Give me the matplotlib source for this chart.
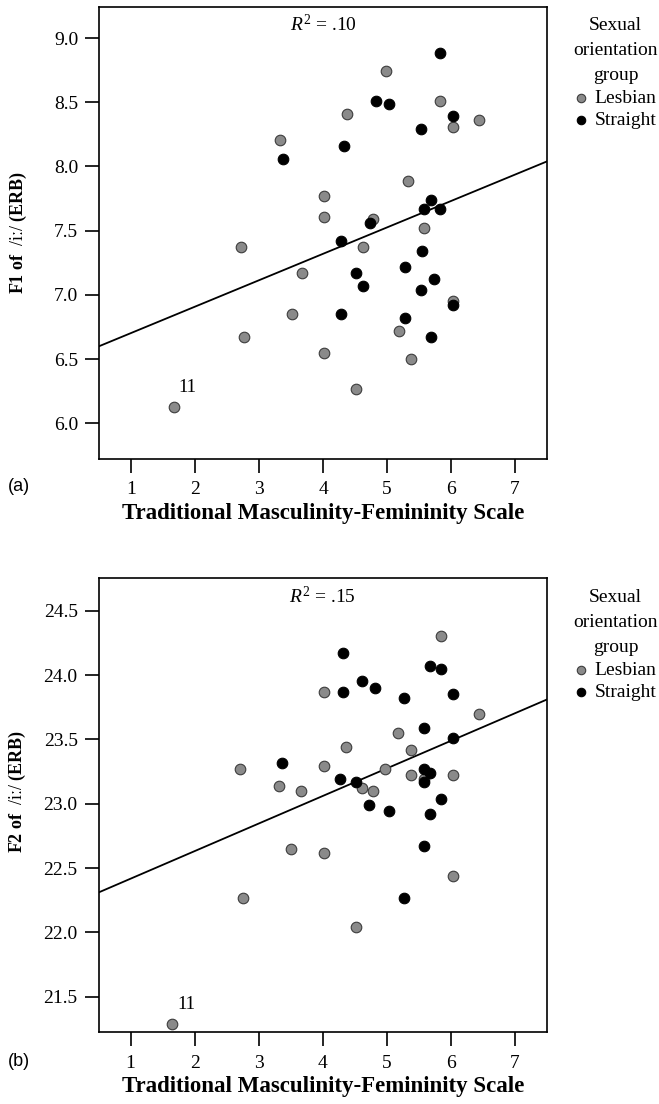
import matplotlib
matplotlib.use("Agg")
import matplotlib.pyplot as plt
import numpy as np

plt.rcParams['font.family'] = ['Liberation Serif', 'DejaVu Serif']
plt.rcParams['mathtext.fontset'] = 'custom'
plt.rcParams['mathtext.rm'] = 'Liberation Serif'
plt.rcParams['mathtext.it'] = 'Liberation Serif:italic'
plt.rcParams['mathtext.bf'] = 'Liberation Serif:bold'

# ---------------- data ----------------
groups = ["Lesbian", "Straight"]

# Panel (a): F1
f1_lesbian_x = [4.98, 5.83, 4.37, 6.03, 6.43, 3.32, 5.33, 4.02, 4.02, 4.78, 5.58,
                2.72, 4.63, 3.67, 6.03, 3.52, 5.18, 2.77, 4.02, 5.38, 4.52, 1.67]
f1_lesbian_y = [8.74, 8.51, 8.41, 8.31, 8.36, 8.21, 7.89, 7.77, 7.61, 7.59, 7.52,
                7.37, 7.37, 7.17, 6.95, 6.85, 6.72, 6.67, 6.55, 6.50, 6.27, 6.13]
f1_straight_x = [5.83, 4.82, 5.03, 6.03, 5.53, 3.37, 4.33, 5.68, 5.58, 5.83, 4.73,
                 4.28, 5.54, 4.52, 5.28, 5.73, 4.63, 5.53, 6.03, 4.28, 5.28, 5.68]
f1_straight_y = [8.88, 8.51, 8.49, 8.39, 8.29, 8.06, 8.16, 7.74, 7.67, 7.67, 7.56,
                 7.42, 7.34, 7.17, 7.22, 7.12, 7.07, 7.04, 6.92, 6.85, 6.82, 6.67]
f1_fit_x = [0.5, 7.5]
f1_fit_y = [6.60, 8.04]
f1_r2 = ".10"

# Panel (b): F2
f2_lesbian_x = [5.84, 4.02, 6.44, 5.17, 4.37, 5.38, 2.71, 4.02, 4.97, 5.38, 6.04,
                3.31, 4.62, 4.78, 3.66, 5.58, 3.51, 4.02, 6.04, 2.76, 4.52, 1.65]
f2_lesbian_y = [24.30, 23.87, 23.70, 23.55, 23.44, 23.42, 23.27, 23.29, 23.27, 23.22, 23.22,
                23.14, 23.12, 23.10, 23.10, 23.19, 22.65, 22.62, 22.44, 22.27, 22.04, 21.29]
f2_straight_x = [4.32, 5.68, 5.84, 4.62, 4.82, 4.32, 5.27, 6.04, 5.58, 6.04, 3.36,
                 5.58, 5.68, 5.58, 4.27, 4.52, 5.84, 4.72, 5.03, 5.68, 5.58, 5.27]
f2_straight_y = [24.17, 24.07, 24.05, 23.95, 23.90, 23.87, 23.82, 23.85, 23.59, 23.51, 23.32,
                 23.27, 23.24, 23.17, 23.19, 23.17, 23.04, 22.99, 22.94, 22.92, 22.67, 22.27]
f2_fit_x = [0.5, 7.5]
f2_fit_y = [22.31, 23.81]
f2_r2 = ".15"

x_ticks = [1, 2, 3, 4, 5, 6, 7]
f1_ticks = [6.0, 6.5, 7.0, 7.5, 8.0, 8.5, 9.0]
f2_ticks = [21.5, 22.0, 22.5, 23.0, 23.5, 24.0, 24.5]
outlier_label = "11"

# ---------------- style ----------------
FS_TICK = 14
FS_XLAB = 16.5
FS_YLAB = 13
FS_LEG = 14
GRAY = "#8a8a8a"
GRAY_EDGE = "#3c3c3c"

fig = plt.figure(figsize=(6.59, 11.04), dpi=100)
ax1 = fig.add_axes([0.1502, 0.584, 0.680, 0.410])
ax2 = fig.add_axes([0.1495, 0.0649, 0.6805, 0.4113])


def draw(ax, lx, ly, sx, sy, fx, fy, r2, yticks, ylim, ylabel, label_y, legend_top):
    ax.plot(fx, fy, color="black", lw=1.3, zorder=2)
    h1 = ax.scatter(lx, ly, s=58, color=GRAY, edgecolor=GRAY_EDGE, linewidth=0.8,
                    zorder=3, label=groups[0])
    h2 = ax.scatter(sx, sy, s=58, color="black", edgecolor="black", linewidth=0.8,
                    zorder=3, label=groups[1])
    ax.set_xlim(0.5, 7.5)
    ax.set_ylim(*ylim)
    ax.set_xticks(x_ticks)
    ax.set_yticks(yticks)
    ax.set_yticklabels([f"{v:.1f}" for v in yticks])
    ax.tick_params(axis="both", direction="out", length=10, width=1.2,
                   labelsize=FS_TICK, color="black")
    ax.tick_params(axis="y", pad=5)
    ax.tick_params(axis="x", pad=6)
    for sp in ax.spines.values():
        sp.set_linewidth(1.2)
    ax.set_xlabel("Traditional Masculinity-Femininity Scale", fontsize=FS_XLAB,
                  fontweight="bold", labelpad=3)
    ax.set_ylabel(ylabel, fontsize=FS_YLAB)
    ax.yaxis.set_label_coords(-0.157, label_y)
    ax.text(0.5, 0.96, r"$R^2$ = " + r2, transform=ax.transAxes, ha="center",
            va="center", fontsize=FS_TICK)
    ax.annotate(outlier_label, xy=(lx[-1], ly[-1]), xytext=(10, 14),
                textcoords="offset points", ha="center", va="center", fontsize=13.5)
    leg = ax.legend(handles=[h1, h2], labels=groups,
                    title="Sexual\norientation\ngroup",
                    loc="upper right", bbox_to_anchor=(658 / 659, legend_top),
                    bbox_transform=fig.transFigure, frameon=False,
                    fontsize=FS_LEG, title_fontsize=FS_LEG, markerscale=0.8,
                    handlelength=0.6, handletextpad=0.4, labelspacing=0.26,
                    borderpad=0.0, borderaxespad=0.0)
    t = leg.get_title()
    t.set_linespacing(1.62)
    t.set_multialignment("center")
    return leg


draw(ax1, f1_lesbian_x, f1_lesbian_y, f1_straight_x, f1_straight_y, f1_fit_x, f1_fit_y,
     f1_r2, f1_ticks, (5.72, 9.245), r"$\mathbf{F1\ of}$  /iː/ $\mathbf{(ERB)}$",
     0.5, 1 - 17 / 1104)
draw(ax2, f2_lesbian_x, f2_lesbian_y, f2_straight_x, f2_straight_y, f2_fit_x, f2_fit_y,
     f2_r2, f2_ticks, (21.223, 24.752), r"$\mathbf{F2\ of}$  /iː/ $\mathbf{(ERB)}$",
     0.531, 1 - 589 / 1104)

fig.text(8 / 659, 1 - 486 / 1104, "(a)", family="Liberation Sans", fontsize=13,
         va="center", ha="left")
fig.text(8 / 659, 1 - 1061 / 1104, "(b)", family="Liberation Sans", fontsize=13,
         va="center", ha="left")

fig.savefig("out.png", dpi=100)
